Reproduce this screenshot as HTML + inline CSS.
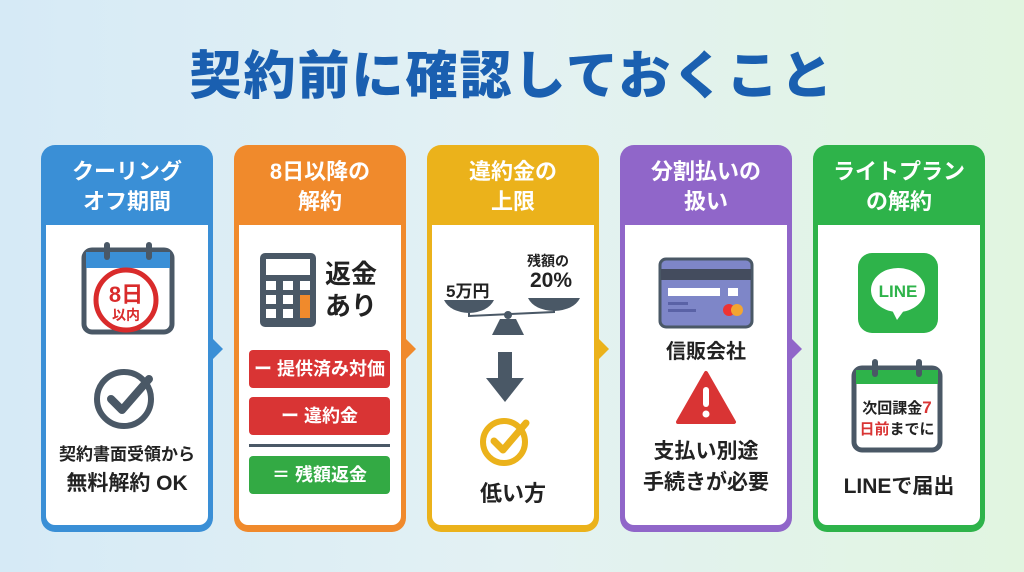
<!DOCTYPE html>
<html><head><meta charset="utf-8"><style>
*{margin:0;padding:0;box-sizing:border-box}
body{width:1024px;height:572px;overflow:hidden;background:linear-gradient(90deg,#d6eaf6 0%,#e3f1f3 50%,#e1f5e0 100%);font-family:"Liberation Sans","Noto Sans CJK JP",sans-serif;position:relative}
.t{position:absolute;left:0;width:1024px;top:34px;text-align:center;font-size:52px;font-weight:900;color:#1a5fb0;letter-spacing:2px}
.card{position:absolute;top:145px;width:172px;height:387px;border-radius:14px;padding:0 5px 6px}
.card .h{height:80px;color:#fff;font-weight:bold;font-size:22px;line-height:30px;text-align:center;padding-top:12px}
.card .b{background:#fff;height:300px;border-radius:0 0 9px 9px;position:relative}
.arr{position:absolute;top:338px;width:0;height:0;border-top:11px solid transparent;border-bottom:11px solid transparent;border-left:11px solid}
.a{position:absolute}
.tx{position:absolute;font-weight:bold;color:#222;text-align:center;white-space:nowrap}
.bar{position:absolute;left:15px;width:141px;height:38px;border-radius:4px;color:#fff;font-weight:bold;font-size:18px;line-height:38px;text-align:center}
</style></head><body>
<div class="t">契約前に確認しておくこと</div>

<div class="card" style="left:41px;background:#3a8fd6"><div class="h">クーリング<br>オフ期間</div><div class="b"></div></div>
<div class="card" style="left:234px;background:#f08a2c"><div class="h">8日以降の<br>解約</div><div class="b"></div></div>
<div class="card" style="left:427px;background:#ebb21b"><div class="h">違約金の<br>上限</div><div class="b"></div></div>
<div class="card" style="left:620px;background:#9066c9"><div class="h">分割払いの<br>扱い</div><div class="b"></div></div>
<div class="card" style="left:813px;background:#2eb34a"><div class="h">ライトプラン<br>の解約</div><div class="b"></div></div>

<div class="arr" style="left:212px;border-left-color:#3a8fd6"></div>
<div class="arr" style="left:405px;border-left-color:#f08a2c"></div>
<div class="arr" style="left:598px;border-left-color:#ebb21b"></div>
<div class="arr" style="left:791px;border-left-color:#9066c9"></div>

<!-- card1 -->
<svg class="a" style="left:80px;top:240px" width="96" height="96">
<rect x="4" y="10" width="88" height="82" rx="8" fill="#fff" stroke="#4a5866" stroke-width="5"/>
<rect x="6" y="12" width="84" height="16" fill="#3a8fd6"/>
<rect x="24" y="2" width="6" height="18" rx="3" fill="#4a5866"/><rect x="66" y="2" width="6" height="18" rx="3" fill="#4a5866"/>
<circle cx="46" cy="60" r="30" fill="#fff" stroke="#d92b2b" stroke-width="5"/>
<text x="46" y="62" text-anchor="middle" font-size="22" font-weight="bold" fill="#d92b2b" font-family="Liberation Sans,Noto Sans CJK JP,sans-serif">8日</text>
<text x="46" y="80" text-anchor="middle" font-size="14" font-weight="bold" fill="#d92b2b" font-family="Liberation Sans,Noto Sans CJK JP,sans-serif">以内</text>
</svg>
<svg class="a" style="left:93px;top:365px" width="66" height="66">
<circle cx="31" cy="34" r="27" fill="none" stroke="#4a5866" stroke-width="6"/>
<path d="M18 34 L29 45 L56 14" fill="none" stroke="#4a5866" stroke-width="8" stroke-linecap="round" stroke-linejoin="round"/>
</svg>
<div class="tx" style="left:46px;width:162px;top:440px;font-size:17px">契約書面受領から</div>
<div class="tx" style="left:46px;width:162px;top:467px;font-size:21px">無料解約 OK</div>

<!-- card2 -->
<svg class="a" style="left:259px;top:252px" width="58" height="76">
<rect x="1" y="1" width="56" height="74" rx="5" fill="#4a5866"/>
<rect x="7" y="7" width="44" height="16" fill="#fff"/>
<g fill="#fff"><rect x="7" y="29" width="10" height="9"/><rect x="24" y="29" width="10" height="9"/><rect x="41" y="29" width="10" height="9"/>
<rect x="7" y="43" width="10" height="9"/><rect x="24" y="43" width="10" height="9"/>
<rect x="7" y="57" width="10" height="9"/><rect x="24" y="57" width="10" height="9"/></g>
<rect x="41" y="43" width="10" height="23" fill="#f08a2c"/>
</svg>
<div class="tx" style="left:325px;top:258px;font-size:26px;line-height:32px;text-align:left">返金<br>あり</div>
<div class="bar" style="left:249px;top:350px;width:141px;background:#d93434">ー 提供済み対価</div>
<div class="bar" style="left:249px;top:397px;width:141px;background:#d93434">ー 違約金</div>
<div class="a" style="left:249px;top:444px;width:141px;height:3px;background:#4a5866"></div>
<div class="bar" style="left:249px;top:456px;width:141px;background:#33aa44">＝ 残額返金</div>

<!-- card3 -->
<div class="tx" style="left:446px;top:277px;font-size:17px">5万円</div>
<div class="tx" style="left:527px;top:251px;font-size:14px">残額の</div>
<div class="tx" style="left:530px;top:269px;font-size:21px">20%</div>
<svg class="a" style="left:442px;top:298px" width="140" height="40">
<path d="M2 2 H52 Q46 14 27 15 Q8 14 2 2Z" fill="#4a5866"/>
<path d="M86 0 H138 Q132 12 112 13 Q92 12 86 0Z" fill="#4a5866"/>
<path d="M27 15 L27 18 L112 14 L112 12" fill="none" stroke="#4a5866" stroke-width="2"/>
<circle cx="66" cy="17" r="4" fill="#4a5866"/>
<path d="M58 21 H74 L82 37 H50Z" fill="#4a5866"/>
</svg>
<svg class="a" style="left:484px;top:352px" width="42" height="52"><rect x="14" y="0" width="14" height="28" fill="#4a5866"/><path d="M2 26 H40 L21 50Z" fill="#4a5866"/></svg>
<svg class="a" style="left:480px;top:413px" width="54" height="54"><circle cx="24" cy="29" r="21" fill="none" stroke="#ebb21b" stroke-width="6"/><path d="M14 28 L23 37 L46 10" fill="none" stroke="#ebb21b" stroke-width="7" stroke-linecap="round" stroke-linejoin="round"/></svg>
<div class="tx" style="left:432px;width:162px;top:476px;font-size:22px">低い方</div>

<!-- card4 -->
<svg class="a" style="left:658px;top:257px" width="96" height="72">
<rect x="2" y="2" width="92" height="68" rx="6" fill="#7e86c8" stroke="#4a5866" stroke-width="3"/>
<rect x="3" y="12" width="90" height="11" fill="#444c5e"/>
<rect x="10" y="31" width="52" height="8" fill="#fff"/><rect x="70" y="31" width="10" height="8" fill="#fff"/>
<rect x="10" y="45" width="20" height="3" fill="#5a62a6"/><rect x="10" y="52" width="28" height="3" fill="#5a62a6"/>
<circle cx="71" cy="53" r="6" fill="#e33"/><circle cx="79" cy="53" r="6" fill="#f3a532"/>
</svg>
<div class="tx" style="left:625px;width:162px;top:335px;font-size:20px">信販会社</div>
<svg class="a" style="left:675px;top:370px" width="62" height="56"><path d="M31 3 L59 52 H3Z" fill="#d93434" stroke="#d93434" stroke-width="4" stroke-linejoin="round"/><rect x="28" y="17" width="6" height="20" rx="3" fill="#fff"/><circle cx="31" cy="44" r="3.5" fill="#fff"/></svg>
<div class="tx" style="left:625px;width:162px;top:436px;font-size:21px;line-height:31px">支払い別途<br>手続きが必要</div>

<!-- card5 -->
<svg class="a" style="left:857px;top:252px" width="82" height="82">
<rect x="1" y="1" width="80" height="80" rx="14" fill="#2eb34a"/>
<ellipse cx="41" cy="38" rx="27" ry="22" fill="#fff"/><path d="M34 56 L40 68 L48 57Z" fill="#fff"/>
<text x="41" y="45" text-anchor="middle" font-size="17" font-weight="bold" fill="#2eb34a" font-family="Liberation Sans,sans-serif">LINE</text>
</svg>
<svg class="a" style="left:850px;top:356px" width="94" height="98">
<rect x="4" y="12" width="86" height="82" rx="8" fill="#fff" stroke="#4a5866" stroke-width="5"/>
<rect x="6" y="14" width="82" height="14" fill="#2eb34a"/>
<rect x="22" y="3" width="6" height="18" rx="3" fill="#4a5866"/><rect x="66" y="3" width="6" height="18" rx="3" fill="#4a5866"/>
<text x="47" y="57" text-anchor="middle" font-size="15" font-weight="bold" fill="#222" font-family="Liberation Sans,Noto Sans CJK JP,sans-serif">次回課金<tspan fill="#d93434" font-size="17">7</tspan></text>
<text x="47" y="78" text-anchor="middle" font-size="15" font-weight="bold" fill="#222" font-family="Liberation Sans,Noto Sans CJK JP,sans-serif"><tspan fill="#d93434">日前</tspan>までに</text>
</svg>
<div class="tx" style="left:818px;width:162px;top:470px;font-size:21px">LINEで届出</div>
</body></html>
